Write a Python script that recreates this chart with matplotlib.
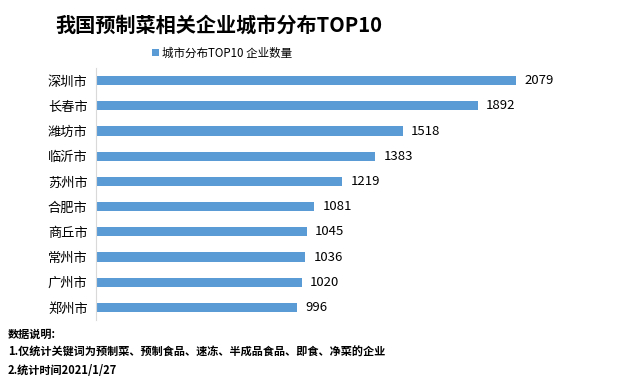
import matplotlib
matplotlib.use("Agg")
import matplotlib.pyplot as plt

plt.rcParams['font.family'] = ['Noto Sans CJK SC', 'DejaVu Sans']

cities = ["深圳市", "长春市", "潍坊市", "临沂市", "苏州市", "合肥市", "商丘市", "常州市", "广州市", "郑州市"]
counts = [2079, 1892, 1518, 1383, 1219, 1081, 1045, 1036, 1020, 996]
title = "我国预制菜相关企业城市分布TOP10"
legend_label = "城市分布TOP10 企业数量"
notes = ["数据说明:", "1.仅统计关键词为预制菜、预制食品、速冻、半成品食品、即食、净菜的企业", "2.统计时间2021/1/27"]

W, H = 631, 384
fig = plt.figure(figsize=(W/100, H/100), dpi=100)
ax = fig.add_axes([96/W, 1-320/H, (601-96)/W, (320-68)/H])

y = list(range(len(cities)))
bars = ax.barh(y, counts, height=0.36, color="#5B9BD5", label=legend_label)
ax.set_ylim(len(cities)-0.5, -0.5)
ax.set_xlim(0, 2500)
ax.set_yticks(y)
ax.set_yticklabels(cities, fontsize=9.5)
ax.tick_params(axis='y', length=0, pad=6)
ax.set_xticks([])
for s in ["top", "right", "bottom"]:
    ax.spines[s].set_visible(False)
ax.spines["left"].set_color("#D9D9D9")
for yi, v in zip(y, counts):
    ax.text(v + 40, yi, str(v), va="center", ha="left", fontsize=9.5, color="#000000")

fig.text(219/W, 1-25/H, title, ha="center", va="center", fontsize=14.5, fontweight="bold")
fig.legend(handles=[bars], labels=[legend_label], loc="center", bbox_to_anchor=(222/W, 1-53/H),
           frameon=False, fontsize=8.3, handlelength=0.6, handleheight=0.6, handletextpad=0.3)

for i, t in enumerate(notes):
    fig.text(8/W, 1-(334+18*i)/H, t, ha="left", va="center", fontsize=8, fontweight="bold")

fig.savefig("out.png", dpi=100)
